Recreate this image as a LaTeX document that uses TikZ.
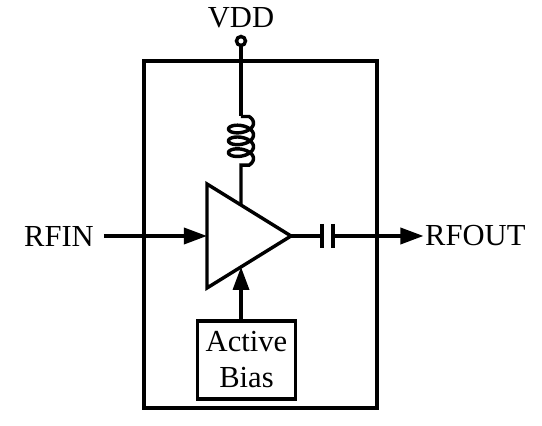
\documentclass[tikz,border=0pt]{standalone}
\usepackage{fontspec}
\setmainfont{Liberation Serif}
\usetikzlibrary{arrows.meta,positioning,shapes.geometric,calc}

\begin{document}
\begin{tikzpicture}[
  line width=1.95pt,
  wire/.style={line width=1.95pt},
  arrow/.style={-{Triangle[length=.46cm,width=.32cm]}, line width=1.95pt},
  label/.style={font=\fontsize{17.4}{20}\selectfont, inner sep=0pt},
  blockbox/.style={rectangle, draw, minimum width=1.96cm, minimum height=1.56cm, align=center, inner sep=0pt, outer sep=0pt, font=\fontsize{17.4}{20.5}\selectfont},
  amp/.style={isosceles triangle, isosceles triangle stretches, draw, minimum height=1.68cm, minimum width=2.08cm, inner sep=0pt, outer sep=0pt}
]
\useasboundingbox (0,0) rectangle (10.84,-8.52);

% outer box and amplifier
\node[rectangle, draw, minimum width=4.66cm, minimum height=6.94cm, outer sep=0pt] (chip) at (5.21,-4.69) {};
\node[amp, anchor=lower side] (pa) at (4.14,-4.72) {};
\node[blockbox] (bias) at (4.93,-7.2) {Active\\Bias};

% supply and inductor
\node[circle, draw, minimum size=.18cm, inner sep=0pt, outer sep=0pt] (vdd) at (4.82,-.82) {};
\node[label, above=.14cm of vdd] (vddtext) {VDD};
\coordinate (coilin) at (4.82,-2.33);
\coordinate[below=.97cm of coilin] (coilout);
\coordinate (paup) at ($(pa.left corner)!.405!(pa.apex)$);
\coordinate (padown) at ($(pa.right corner)!.405!(pa.apex)$);

% capacitor
\coordinate (capa) at (6.44,-4.72);
\coordinate[right=.22cm of capa] (capb);

% ports
\node[label, anchor=east] (rfin) at (1.91,-4.72) {RFIN};
\node[label, anchor=west] (rfout) at (8.47,-4.72) {RFOUT};

% wires
\draw[wire] (vdd.south) -- (coilin);
\draw[wire, shift={(coilin)}] (coilin) -- plot[domain=40:1220, samples=160, smooth] ({.25*sin(\x)}, {-.00065*(\x-40)+.13*(cos(\x)-cos(40))}) -- (coilout) -- (coilout |- paup);
\draw[wire] (pa.apex) -- (capa);
\draw[wire] ($(capa)+(0,.24)$) -- ($(capa)+(0,-.24)$);
\draw[wire] ($(capb)+(0,.24)$) -- ($(capb)+(0,-.24)$);
\draw[arrow] (capb) -- (rfout.west);
\draw[arrow] (rfin.east) ++(.17,0) -- (pa.lower side);
\draw[arrow] (padown |- bias.north) -- (padown);

\end{tikzpicture}
\end{document}
